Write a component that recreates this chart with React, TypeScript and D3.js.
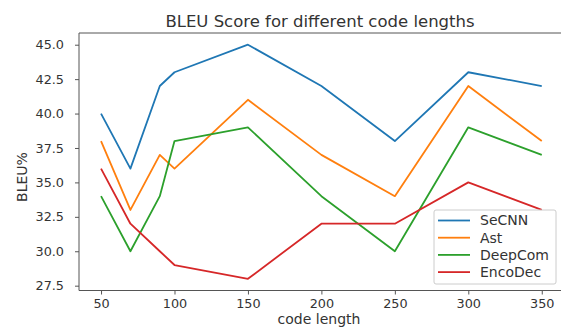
import React, { useEffect, useRef } from 'react'
import * as d3 from 'd3'

const codeLengths = [50, 70, 90, 100, 150, 200, 250, 300, 350]
const secnn = [40, 36, 42, 43, 45, 42, 38, 43, 42]
const ast = [38, 33, 37, 36, 41, 37, 34, 42, 38]
const deepcom = [34, 30, 34, 38, 39, 34, 30, 39, 37]
const encodec = [36, 32, 30, 29, 28, 32, 32, 35, 33]
const xTicks = [50, 100, 150, 200, 250, 300, 350]
const yTicks = [27.5, 30, 32.5, 35, 37.5, 40, 42.5, 45]

const series = [
    { name: 'SeCNN', values: secnn, color: '#1f77b4' },
    { name: 'Ast', values: ast, color: '#ff7f0e' },
    { name: 'DeepCom', values: deepcom, color: '#2ca02c' },
    { name: 'EncoDec', values: encodec, color: '#d62728' },
]

export default function App() {
    const ref = useRef<SVGSVGElement>(null)

    useEffect(() => {
        const el = ref.current
        if (!el) return
        const svg = d3.select(el)
        svg.selectAll('*').remove()
        const W = 561, H = 331
        const left = 79, top = 33, bottom = 290.5
        const font = 'DejaVu Sans, sans-serif'
        const ink = '#333'

        const x = d3.scaleLinear().domain([35, 365]).range([left, 563.8])
        const y = d3.scaleLinear().domain([27.15, 45.85]).range([bottom, top])

        svg.append('rect').attr('width', W).attr('height', H).attr('fill', '#fff')

        // title
        svg.append('text').attr('x', 320).attr('y', 27).attr('text-anchor', 'middle')
            .attr('font-family', font).attr('font-size', 16.5).attr('fill', ink)
            .text('BLEU Score for different code lengths')

        const line = d3.line<number>().x((_, i) => x(codeLengths[i])).y(d => y(d))
        series.forEach(s => {
            svg.append('path').attr('d', line(s.values)).attr('fill', 'none')
                .attr('stroke', s.color).attr('stroke-width', 1.8).attr('stroke-linejoin', 'round')
        })

        // spines (right side is cut off by the picture)
        const spine = '#555'
        svg.append('line').attr('x1', left).attr('x2', W).attr('y1', top).attr('y2', top).attr('stroke', spine)
        svg.append('line').attr('x1', left).attr('x2', W).attr('y1', bottom).attr('y2', bottom).attr('stroke', spine)
        svg.append('line').attr('x1', left).attr('x2', left).attr('y1', top).attr('y2', bottom).attr('stroke', spine)

        const ax = d3.axisBottom(x).tickValues(xTicks).tickFormat(d3.format('d')).tickSize(4).tickPadding(4.5)
        const gx = svg.append('g').attr('transform', `translate(0,${bottom})`).call(ax)
        const ay = d3.axisLeft(y).tickValues(yTicks).tickFormat(d3.format('.1f')).tickSize(4).tickPadding(11)
        const gy = svg.append('g').attr('transform', `translate(${left},0)`).call(ay)
        ;[gx, gy].forEach(g => {
            g.select('.domain').remove()
            g.selectAll('line').attr('stroke', spine)
            g.selectAll('text').attr('font-family', font).attr('font-size', 12.8).attr('fill', ink)
        })

        svg.append('text').attr('x', 319).attr('y', 324).attr('text-anchor', 'middle')
            .attr('font-family', font).attr('font-size', 14).attr('fill', ink).text('code length')
        svg.append('text').attr('transform', 'translate(27,177) rotate(-90)').attr('text-anchor', 'middle')
            .attr('font-family', font).attr('font-size', 14).attr('fill', ink).text('BLEU%')

        // legend
        const lg = svg.append('g').attr('transform', 'translate(434,210)')
        lg.append('rect').attr('width', 122).attr('height', 74).attr('rx', 2)
            .attr('fill', '#fff').attr('fill-opacity', 0.8).attr('stroke', '#ccc')
        series.forEach((s, i) => {
            const yy = 10.5 + i * 17.2
            lg.append('line').attr('x1', 4).attr('x2', 36).attr('y1', yy).attr('y2', yy)
                .attr('stroke', s.color).attr('stroke-width', 1.8)
            lg.append('text').attr('x', 46).attr('y', yy).attr('dy', '0.35em')
                .attr('font-family', font).attr('font-size', 14).attr('fill', ink).text(s.name)
        })
    }, [])

    return <svg ref={ref} width={561} height={331} style={{ position: 'absolute', left: 0, top: 0 }} />
}
